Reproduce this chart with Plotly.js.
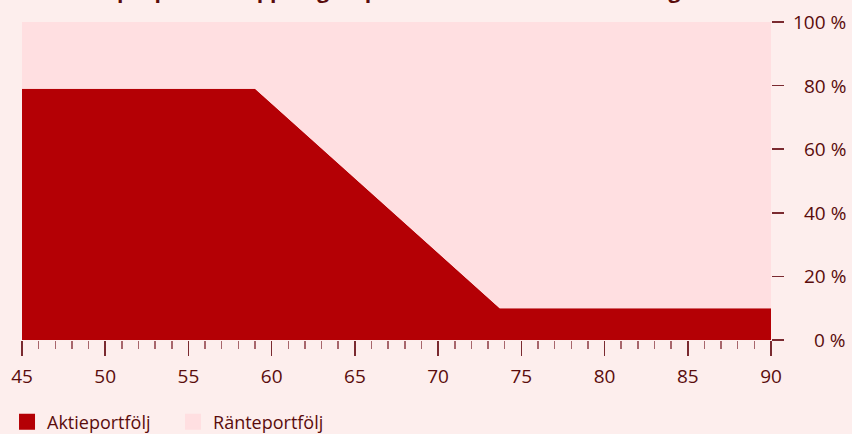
<!DOCTYPE html>
<html>
<head>
<meta charset="utf-8">
<script src="https://cdn.plot.ly/plotly-3.0.1.min.js"></script>
<style>html,body{margin:0;padding:0;background:#fdeeed;}#chart{width:852px;height:434px;}</style>
</head>
<body>
<div id="chart"></div>
<script>
// Data
var ages = [45, 59, 73.7, 90];
var aktieportfolj = [79, 79, 10, 10];
var ranteportfolj = [21, 21, 90, 90];
var seriesNames = ["Aktieportfölj", "Ränteportfölj"];
var yTickValues = [0, 20, 40, 60, 80, 100];
var yTickLabels = ["0 %", "20 %", "40 %", "60 %", "80 %", "100 %"];
var xTickValues = [45, 50, 55, 60, 65, 70, 75, 80, 85, 90];
var titleText = "Exempel på nedtrappning av pensionsrisken i takt med stigande ålder";

var aktieColor = "#b40005";
var ranteColor = "#ffdfe1";
var textColor = "#5a0c0c";
var fontFam = "Open Sans, sans-serif";

var traces = [
  {x: ages, y: aktieportfolj, type: "scatter", mode: "lines", stackgroup: "one",
   fillcolor: aktieColor, line: {width: 0, color: aktieColor}, showlegend: false, hoverinfo: "skip"},
  {x: ages, y: ranteportfolj, type: "scatter", mode: "lines", stackgroup: "one",
   fillcolor: ranteColor, line: {width: 0, color: ranteColor}, showlegend: false, hoverinfo: "skip"},
  {x: [null], y: [null], type: "scatter", mode: "markers", name: seriesNames[0],
   marker: {symbol: "square", size: 20, color: aktieColor}},
  {x: [null], y: [null], type: "scatter", mode: "markers", name: seriesNames[1],
   marker: {symbol: "square", size: 20, color: ranteColor}}
];

var annotations = yTickValues.map(function (v, i) {
  return {xref: "paper", yref: "y", x: 1.1028, y: v, xanchor: "right", yanchor: "middle",
          text: yTickLabels[i], showarrow: false, font: {family: fontFam, size: 19, color: textColor}};
});
annotations.push({xref: "paper", yref: "paper", x: 0.54, y: 1, xanchor: "center", yanchor: "bottom",
  yshift: 16, text: "<b>" + titleText + "</b>", showarrow: false,
  font: {family: fontFam, size: 21, color: textColor}});

var layout = {
  width: 852, height: 434,
  margin: {l: 22, r: 81, t: 22, b: 94, autoexpand: false},
  paper_bgcolor: "#fdeeed",
  plot_bgcolor: "#fdeeed",
  font: {family: fontFam, color: textColor, size: 19},
  xaxis: {
    range: [45, 90], tickmode: "array", tickvals: xTickValues, ticks: "outside",
    ticklen: 15, tickwidth: 1.5, tickcolor: "#7a2a30", showgrid: false, zeroline: false,
    showline: false, automargin: false, tickfont: {family: fontFam, size: 19, color: textColor},
    ticklabelstandoff: 4,
    minor: {dtick: 1, ticks: "outside", ticklen: 8, tickwidth: 1.5, tickcolor: "#a8666c", showgrid: false},
    fixedrange: true
  },
  yaxis: {
    range: [0, 100], side: "right", tickvals: yTickValues, ticktext: yTickLabels,
    showticklabels: false, ticks: "outside", ticklen: 12, tickwidth: 1.5, tickcolor: "#7a2a30",
    showgrid: false, zeroline: false, showline: false, automargin: false, fixedrange: true
  },
  legend: {orientation: "h", x: -0.02, xanchor: "left", y: -0.2, yanchor: "top", traceorder: "normal",
    font: {family: fontFam, size: 18, color: textColor}, bgcolor: "rgba(0,0,0,0)", entrywidth: 121},
  annotations: annotations,
  showlegend: true
};

Plotly.newPlot("chart", traces, layout, {displayModeBar: false, staticPlot: true});
</script>
</body>
</html>
